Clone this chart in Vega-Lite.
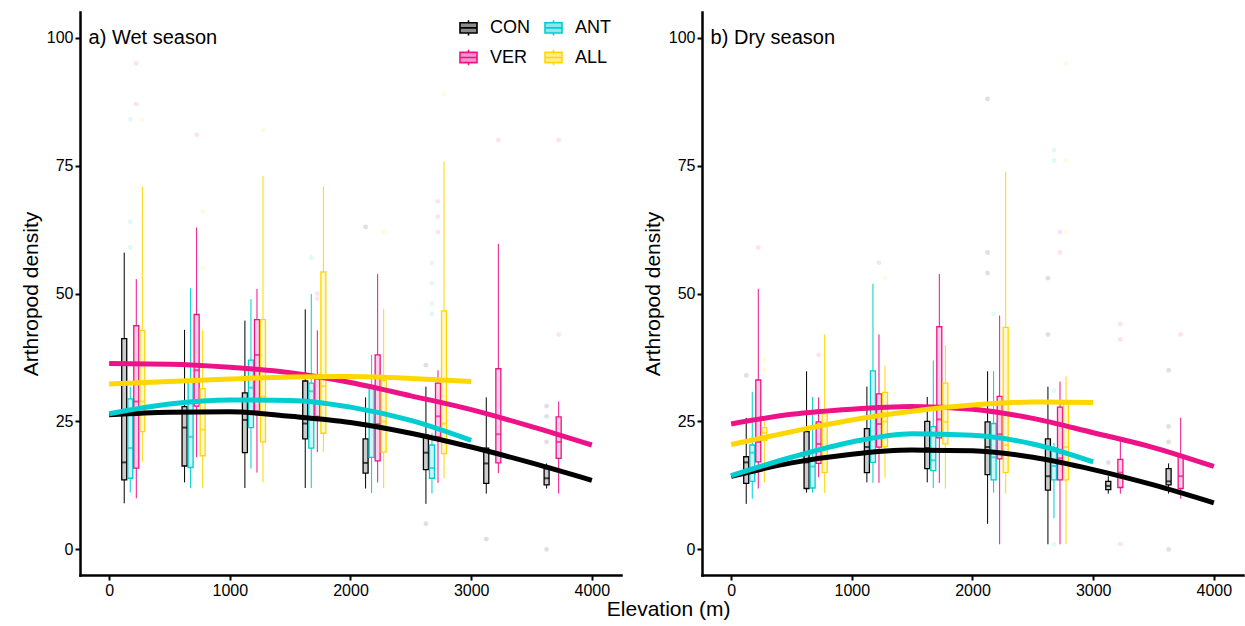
{
  "$schema": "https://vega.github.io/schema/vega-lite/v6.json",
  "autosize": {"type": "pad"},
  "padding": {"left": 20, "top": 12, "right": 4, "bottom": 4},
  "spacing": 21,
  "title": {"text": "Elevation (m)", "orient": "bottom", "anchor": "middle", "fontSize": 21, "fontWeight": "normal", "color": "#000", "font": "Liberation Sans", "dx": 37, "offset": 1},
  "resolve": {"legend": {"color": "independent"}},
  "datasets": {
    "box": [
      {"season":"Wet","trt":"CON","elev":200,"lo":9,"q1":13.6,"med":17,"q3":41.2,"hi":58},
      {"season":"Wet","trt":"ANT","elev":200,"lo":11.1,"q1":13.9,"med":19.8,"q3":29.4,"hi":31.8},
      {"season":"Wet","trt":"VER","elev":200,"lo":10,"q1":15.9,"med":28.9,"q3":43.7,"hi":52.8},
      {"season":"Wet","trt":"ALL","elev":200,"lo":17.1,"q1":23,"med":28.9,"q3":42.8,"hi":70.9},
      {"season":"Wet","trt":"CON","elev":700,"lo":13.1,"q1":16.3,"med":23.8,"q3":27.9,"hi":42.9},
      {"season":"Wet","trt":"ANT","elev":700,"lo":12,"q1":16,"med":22,"q3":33,"hi":51},
      {"season":"Wet","trt":"VER","elev":700,"lo":18,"q1":28,"med":35,"q3":45.9,"hi":62.9},
      {"season":"Wet","trt":"ALL","elev":700,"lo":12,"q1":18.3,"med":23.4,"q3":31.4,"hi":42.9},
      {"season":"Wet","trt":"CON","elev":1200,"lo":12,"q1":18.9,"med":25.3,"q3":30.6,"hi":44.7},
      {"season":"Wet","trt":"ANT","elev":1200,"lo":15.8,"q1":23.8,"med":31.6,"q3":37,"hi":48.9},
      {"season":"Wet","trt":"VER","elev":1200,"lo":15,"q1":27,"med":38,"q3":44.9,"hi":50.9},
      {"season":"Wet","trt":"ALL","elev":1200,"lo":13.1,"q1":21,"med":29.9,"q3":44.9,"hi":72.9},
      {"season":"Wet","trt":"CON","elev":1700,"lo":12,"q1":21.6,"med":24.6,"q3":32.9,"hi":46.9},
      {"season":"Wet","trt":"ANT","elev":1700,"lo":12,"q1":19.8,"med":30.9,"q3":32.5,"hi":49.9},
      {"season":"Wet","trt":"VER","elev":1700,"lo":19,"q1":26,"med":29,"q3":33.3,"hi":42.8},
      {"season":"Wet","trt":"ALL","elev":1700,"lo":19,"q1":22.7,"med":31.9,"q3":54.2,"hi":70.9},
      {"season":"Wet","trt":"CON","elev":2200,"lo":11.9,"q1":14.9,"med":16.9,"q3":21.6,"hi":29.7},
      {"season":"Wet","trt":"ANT","elev":2200,"lo":11,"q1":18,"med":24,"q3":32,"hi":38},
      {"season":"Wet","trt":"VER","elev":2200,"lo":13.1,"q1":17.3,"med":24.5,"q3":38,"hi":53.8},
      {"season":"Wet","trt":"ALL","elev":2200,"lo":12,"q1":19,"med":25,"q3":33,"hi":47},
      {"season":"Wet","trt":"CON","elev":2700,"lo":8.9,"q1":15.6,"med":18.9,"q3":22.3,"hi":31.8},
      {"season":"Wet","trt":"ANT","elev":2700,"lo":10.9,"q1":13.9,"med":15.9,"q3":20.4,"hi":22.8},
      {"season":"Wet","trt":"VER","elev":2700,"lo":13,"q1":22,"med":26,"q3":32.5,"hi":35},
      {"season":"Wet","trt":"ALL","elev":2700,"lo":13.9,"q1":18.7,"med":24.6,"q3":46.6,"hi":75.8},
      {"season":"Wet","trt":"CON","elev":3200,"lo":10.9,"q1":12.9,"med":16.8,"q3":19.8,"hi":29.7},
      {"season":"Wet","trt":"VER","elev":3200,"lo":14.9,"q1":16.9,"med":22.5,"q3":35.3,"hi":59.7},
      {"season":"Wet","trt":"CON","elev":3700,"lo":11.9,"q1":12.6,"med":13.9,"q3":15.8,"hi":16.8},
      {"season":"Wet","trt":"VER","elev":3700,"lo":10.9,"q1":17.8,"med":21,"q3":25.9,"hi":28.9},
      {"season":"Dry","trt":"CON","elev":200,"lo":8.9,"q1":12.9,"med":17,"q3":18.1,"hi":25.7},
      {"season":"Dry","trt":"ANT","elev":200,"lo":9.9,"q1":13.3,"med":18.9,"q3":20.4,"hi":30.8},
      {"season":"Dry","trt":"VER","elev":200,"lo":11.9,"q1":17.1,"med":21,"q3":33.1,"hi":50.9},
      {"season":"Dry","trt":"ALL","elev":200,"lo":13.1,"q1":21.3,"med":22.8,"q3":23.8,"hi":25},
      {"season":"Dry","trt":"CON","elev":700,"lo":11.1,"q1":11.9,"med":17,"q3":23,"hi":34.8},
      {"season":"Dry","trt":"ANT","elev":700,"lo":11.1,"q1":12,"med":16.2,"q3":17.6,"hi":29.8},
      {"season":"Dry","trt":"VER","elev":700,"lo":14.1,"q1":16.8,"med":20.6,"q3":24.9,"hi":29.7},
      {"season":"Dry","trt":"ALL","elev":700,"lo":11,"q1":15,"med":20,"q3":26.5,"hi":42},
      {"season":"Dry","trt":"CON","elev":1200,"lo":13.1,"q1":15,"med":20,"q3":23.6,"hi":31.8},
      {"season":"Dry","trt":"ANT","elev":1200,"lo":13,"q1":17,"med":22,"q3":34.9,"hi":51.9},
      {"season":"Dry","trt":"VER","elev":1200,"lo":13,"q1":20,"med":24.5,"q3":30.4,"hi":42},
      {"season":"Dry","trt":"ALL","elev":1200,"lo":14,"q1":20.1,"med":25,"q3":30.7,"hi":35.9},
      {"season":"Dry","trt":"CON","elev":1700,"lo":13.1,"q1":15.8,"med":19.8,"q3":25,"hi":29.8},
      {"season":"Dry","trt":"ANT","elev":1700,"lo":12,"q1":15.4,"med":17.4,"q3":24,"hi":36.9},
      {"season":"Dry","trt":"VER","elev":1700,"lo":13,"q1":21.8,"med":25.4,"q3":43.5,"hi":53.8},
      {"season":"Dry","trt":"ALL","elev":1700,"lo":11.9,"q1":20.6,"med":24.9,"q3":32.5,"hi":39.9},
      {"season":"Dry","trt":"CON","elev":2200,"lo":5,"q1":14.6,"med":20,"q3":24.9,"hi":34.8},
      {"season":"Dry","trt":"ANT","elev":2200,"lo":11.1,"q1":13.6,"med":18,"q3":24.6,"hi":34.8},
      {"season":"Dry","trt":"VER","elev":2200,"lo":1,"q1":17.7,"med":22.5,"q3":29.9,"hi":45.7},
      {"season":"Dry","trt":"ALL","elev":2200,"lo":10.9,"q1":15,"med":20.4,"q3":43.4,"hi":73.8},
      {"season":"Dry","trt":"CON","elev":2700,"lo":1,"q1":11.6,"med":14.3,"q3":21.6,"hi":31.8},
      {"season":"Dry","trt":"ANT","elev":2700,"lo":6.1,"q1":13.6,"med":16.3,"q3":19.8,"hi":20.8},
      {"season":"Dry","trt":"VER","elev":2700,"lo":1,"q1":13.6,"med":17.8,"q3":27.8,"hi":32.8},
      {"season":"Dry","trt":"ALL","elev":2700,"lo":1,"q1":13.6,"med":20,"q3":29,"hi":33.8},
      {"season":"Dry","trt":"CON","elev":3200,"lo":10.9,"q1":11.7,"med":12.4,"q3":13.3,"hi":14.3},
      {"season":"Dry","trt":"VER","elev":3200,"lo":10.9,"q1":12.1,"med":15,"q3":17.6,"hi":21.2},
      {"season":"Dry","trt":"CON","elev":3700,"lo":10.9,"q1":12.6,"med":13.3,"q3":15.8,"hi":16.8},
      {"season":"Dry","trt":"VER","elev":3700,"lo":9.9,"q1":11.9,"med":14.3,"q3":18.3,"hi":25.7}
    ],
    "out": [
      {"season":"Wet","trt":"ANT","elev":200,"y":84},{"season":"Wet","trt":"ANT","elev":200,"y":64},{"season":"Wet","trt":"ANT","elev":200,"y":59},
      {"season":"Wet","trt":"VER","elev":200,"y":95},{"season":"Wet","trt":"VER","elev":200,"y":87},
      {"season":"Wet","trt":"ALL","elev":200,"y":84},
      {"season":"Wet","trt":"VER","elev":700,"y":81},
      {"season":"Wet","trt":"ALL","elev":700,"y":66},{"season":"Wet","trt":"ALL","elev":700,"y":55},
      {"season":"Wet","trt":"ALL","elev":1200,"y":82},
      {"season":"Wet","trt":"ANT","elev":1700,"y":57},
      {"season":"Wet","trt":"VER","elev":1700,"y":50},{"season":"Wet","trt":"VER","elev":1700,"y":49},
      {"season":"Wet","trt":"CON","elev":2200,"y":63},
      {"season":"Wet","trt":"ALL","elev":2200,"y":62},
      {"season":"Wet","trt":"CON","elev":2700,"y":36},{"season":"Wet","trt":"CON","elev":2700,"y":5},
      {"season":"Wet","trt":"ANT","elev":2700,"y":56},{"season":"Wet","trt":"ANT","elev":2700,"y":52},{"season":"Wet","trt":"ANT","elev":2700,"y":48},{"season":"Wet","trt":"ANT","elev":2700,"y":46},
      {"season":"Wet","trt":"VER","elev":2700,"y":68},{"season":"Wet","trt":"VER","elev":2700,"y":65},{"season":"Wet","trt":"VER","elev":2700,"y":62},
      {"season":"Wet","trt":"ALL","elev":2700,"y":89},
      {"season":"Wet","trt":"CON","elev":3200,"y":2},
      {"season":"Wet","trt":"VER","elev":3200,"y":80},
      {"season":"Wet","trt":"CON","elev":3700,"y":28},{"season":"Wet","trt":"CON","elev":3700,"y":26},{"season":"Wet","trt":"CON","elev":3700,"y":21},{"season":"Wet","trt":"CON","elev":3700,"y":0},
      {"season":"Wet","trt":"VER","elev":3700,"y":80},{"season":"Wet","trt":"VER","elev":3700,"y":42},
      {"season":"Dry","trt":"CON","elev":200,"y":34},
      {"season":"Dry","trt":"VER","elev":200,"y":59},
      {"season":"Dry","trt":"ALL","elev":200,"y":37},{"season":"Dry","trt":"ALL","elev":200,"y":35},
      {"season":"Dry","trt":"VER","elev":700,"y":38},
      {"season":"Dry","trt":"VER","elev":1200,"y":56},
      {"season":"Dry","trt":"ALL","elev":1200,"y":53},
      {"season":"Dry","trt":"CON","elev":2200,"y":88},{"season":"Dry","trt":"CON","elev":2200,"y":58},{"season":"Dry","trt":"CON","elev":2200,"y":54},
      {"season":"Dry","trt":"ANT","elev":2200,"y":46},
      {"season":"Dry","trt":"CON","elev":2700,"y":53},{"season":"Dry","trt":"CON","elev":2700,"y":42},
      {"season":"Dry","trt":"ANT","elev":2700,"y":78},{"season":"Dry","trt":"ANT","elev":2700,"y":76},{"season":"Dry","trt":"ANT","elev":2700,"y":31},{"season":"Dry","trt":"ANT","elev":2700,"y":1},
      {"season":"Dry","trt":"VER","elev":2700,"y":62},{"season":"Dry","trt":"VER","elev":2700,"y":58},
      {"season":"Dry","trt":"ALL","elev":2700,"y":95},{"season":"Dry","trt":"ALL","elev":2700,"y":76},{"season":"Dry","trt":"ALL","elev":2700,"y":62},
      {"season":"Dry","trt":"CON","elev":3200,"y":17},
      {"season":"Dry","trt":"VER","elev":3200,"y":44},{"season":"Dry","trt":"VER","elev":3200,"y":41},{"season":"Dry","trt":"VER","elev":3200,"y":1},
      {"season":"Dry","trt":"CON","elev":3700,"y":35},{"season":"Dry","trt":"CON","elev":3700,"y":24},{"season":"Dry","trt":"CON","elev":3700,"y":21},{"season":"Dry","trt":"CON","elev":3700,"y":0},
      {"season":"Dry","trt":"VER","elev":3700,"y":42}
    ],
    "fit": [
      {"season":"Wet","trt":"CON","elev":0,"y":26.3},{"season":"Wet","trt":"CON","elev":500,"y":26.8},{"season":"Wet","trt":"CON","elev":1000,"y":26.9},{"season":"Wet","trt":"CON","elev":1500,"y":26.0},{"season":"Wet","trt":"CON","elev":2000,"y":24.8},{"season":"Wet","trt":"CON","elev":2500,"y":22.7},{"season":"Wet","trt":"CON","elev":3000,"y":20.0},{"season":"Wet","trt":"CON","elev":3500,"y":16.9},{"season":"Wet","trt":"CON","elev":4000,"y":13.5},
      {"season":"Wet","trt":"VER","elev":0,"y":36.3},{"season":"Wet","trt":"VER","elev":500,"y":36.2},{"season":"Wet","trt":"VER","elev":1000,"y":35.6},{"season":"Wet","trt":"VER","elev":1500,"y":34.5},{"season":"Wet","trt":"VER","elev":2000,"y":32.6},{"season":"Wet","trt":"VER","elev":2500,"y":30.0},{"season":"Wet","trt":"VER","elev":3000,"y":27.3},{"season":"Wet","trt":"VER","elev":3500,"y":24.0},{"season":"Wet","trt":"VER","elev":4000,"y":20.4},
      {"season":"Wet","trt":"ALL","elev":0,"y":32.3},{"season":"Wet","trt":"ALL","elev":500,"y":32.8},{"season":"Wet","trt":"ALL","elev":1000,"y":33.3},{"season":"Wet","trt":"ALL","elev":1500,"y":33.7},{"season":"Wet","trt":"ALL","elev":2000,"y":33.8},{"season":"Wet","trt":"ALL","elev":2500,"y":33.4},{"season":"Wet","trt":"ALL","elev":3000,"y":32.8},
      {"season":"Wet","trt":"ANT","elev":0,"y":26.5},{"season":"Wet","trt":"ANT","elev":500,"y":28.4},{"season":"Wet","trt":"ANT","elev":1000,"y":29.2},{"season":"Wet","trt":"ANT","elev":1500,"y":29.1},{"season":"Wet","trt":"ANT","elev":2000,"y":27.8},{"season":"Wet","trt":"ANT","elev":2500,"y":25.2},{"season":"Wet","trt":"ANT","elev":3000,"y":21.3},
      {"season":"Dry","trt":"CON","elev":0,"y":14.3},{"season":"Dry","trt":"CON","elev":500,"y":16.9},{"season":"Dry","trt":"CON","elev":1000,"y":18.6},{"season":"Dry","trt":"CON","elev":1500,"y":19.4},{"season":"Dry","trt":"CON","elev":2000,"y":19.3},{"season":"Dry","trt":"CON","elev":2500,"y":18.0},{"season":"Dry","trt":"CON","elev":3000,"y":15.6},{"season":"Dry","trt":"CON","elev":3500,"y":12.6},{"season":"Dry","trt":"CON","elev":4000,"y":9.1},
      {"season":"Dry","trt":"VER","elev":0,"y":24.5},{"season":"Dry","trt":"VER","elev":500,"y":26.4},{"season":"Dry","trt":"VER","elev":1000,"y":27.4},{"season":"Dry","trt":"VER","elev":1500,"y":27.9},{"season":"Dry","trt":"VER","elev":2000,"y":27.4},{"season":"Dry","trt":"VER","elev":2500,"y":25.6},{"season":"Dry","trt":"VER","elev":3000,"y":22.8},{"season":"Dry","trt":"VER","elev":3500,"y":19.9},{"season":"Dry","trt":"VER","elev":4000,"y":16.2},
      {"season":"Dry","trt":"ALL","elev":0,"y":20.5},{"season":"Dry","trt":"ALL","elev":500,"y":23.0},{"season":"Dry","trt":"ALL","elev":1000,"y":25.3},{"season":"Dry","trt":"ALL","elev":1500,"y":27.0},{"season":"Dry","trt":"ALL","elev":2000,"y":28.2},{"season":"Dry","trt":"ALL","elev":2500,"y":28.8},{"season":"Dry","trt":"ALL","elev":3000,"y":28.7},
      {"season":"Dry","trt":"ANT","elev":0,"y":14.4},{"season":"Dry","trt":"ANT","elev":500,"y":18.0},{"season":"Dry","trt":"ANT","elev":1000,"y":21.0},{"season":"Dry","trt":"ANT","elev":1500,"y":22.6},{"season":"Dry","trt":"ANT","elev":2000,"y":22.3},{"season":"Dry","trt":"ANT","elev":2500,"y":20.6},{"season":"Dry","trt":"ANT","elev":3000,"y":17.1}
    ]
  },
  "hconcat": [
    {
      "width": 541, "height": 563,
      "encoding": {
        "color": {"field": "trt", "type": "nominal", "scale": {"domain": ["CON", "VER", "ANT", "ALL"], "range": ["#000000", "#EE1289", "#00CED1", "#FFD700"]},
          "legend": {"orient": "none", "legendX": 379, "legendY": 6, "columns": 2, "title": null, "padding": 0,
            "symbolType": "M0,-0.9V-0.6M0,0.6V0.9M-1,-0.6H1V0.6H-1ZM-1,0H1", "symbolSize": 289,
            "labelFontSize": 18, "labelColor": "#000", "labelFont": "Liberation Sans", "labelOffset": 12, "columnPadding": 11, "rowPadding": 7,
            "symbolStrokeWidth": 1.6, "symbolOpacity": 1, "symbolFillColor": "#999999",
            "encode": {"symbols": {"update": {"opacity": {"value": 1}, "fill": {"scale": "color", "field": "value"}, "fillOpacity": {"value": 0.45}, "stroke": {"scale": "color", "field": "value"}, "strokeWidth": {"value": 1.6}}}}}}
      },
      "layer": [
        {"data": {"name": "out"}, "transform": [{"filter": "datum.season == 'Wet'"}, {"calculate": "datum.elev + (datum.trt == 'CON' ? -75 : datum.trt == 'ANT' ? -25 : datum.trt == 'VER' ? 25 : 75)", "as": "xd"}],
         "mark": {"type": "circle", "size": 24, "opacity": 0.12},
         "encoding": {
           "x": {"field": "xd", "type": "quantitative", "scale": {"domain": [-200, 4200], "nice": false, "zero": false}, "axis": {"title": null, "values": [0, 1000, 2000, 3000, 4000], "format": "d"}},
           "y": {"field": "y", "type": "quantitative", "scale": {"domain": [-5, 105], "nice": false, "zero": false}, "axis": {"title": "Arthropod density", "values": [0, 25, 50, 75, 100]}}}},
        {"data": {"name": "box"}, "transform": [{"filter": "datum.season == 'Wet'"}, {"calculate": "datum.elev + (datum.trt == 'CON' ? -75 : datum.trt == 'ANT' ? -25 : datum.trt == 'VER' ? 25 : 75)", "as": "xd"}],
         "mark": {"type": "rule", "strokeWidth": 1},
         "encoding": {
           "x": {"field": "xd", "type": "quantitative", "scale": {"domain": [-200, 4200], "nice": false, "zero": false}, "axis": {"title": null, "values": [0, 1000, 2000, 3000, 4000], "format": "d"}},
           "y": {"field": "lo", "type": "quantitative", "scale": {"domain": [-5, 105], "nice": false, "zero": false}, "axis": {"title": "Arthropod density", "values": [0, 25, 50, 75, 100]}},
           "y2": {"field": "q1"}}},
        {"data": {"name": "box"}, "transform": [{"filter": "datum.season == 'Wet'"}, {"calculate": "datum.elev + (datum.trt == 'CON' ? -75 : datum.trt == 'ANT' ? -25 : datum.trt == 'VER' ? 25 : 75)", "as": "xd"}],
         "mark": {"type": "rule", "strokeWidth": 1},
         "encoding": {
           "x": {"field": "xd", "type": "quantitative", "scale": {"domain": [-200, 4200], "nice": false, "zero": false}, "axis": {"title": null, "values": [0, 1000, 2000, 3000, 4000], "format": "d"}},
           "y": {"field": "q3", "type": "quantitative", "scale": {"domain": [-5, 105], "nice": false, "zero": false}, "axis": {"title": "Arthropod density", "values": [0, 25, 50, 75, 100]}},
           "y2": {"field": "hi"}}},
        {"data": {"name": "box"}, "transform": [{"filter": "datum.season == 'Wet'"}, {"calculate": "datum.elev + (datum.trt == 'CON' ? -75 : datum.trt == 'ANT' ? -25 : datum.trt == 'VER' ? 25 : 75)", "as": "xd"}],
         "mark": {"type": "bar", "width": 5, "fillOpacity": 0.2, "strokeWidth": 0},
         "encoding": {
           "x": {"field": "xd", "type": "quantitative", "scale": {"domain": [-200, 4200], "nice": false, "zero": false}, "axis": {"title": null, "values": [0, 1000, 2000, 3000, 4000], "format": "d"}},
           "y": {"field": "q1", "type": "quantitative", "scale": {"domain": [-5, 105], "nice": false, "zero": false}, "axis": {"title": "Arthropod density", "values": [0, 25, 50, 75, 100]}},
           "y2": {"field": "q3"}}},
        {"data": {"name": "box"}, "transform": [{"filter": "datum.season == 'Wet'"}, {"calculate": "datum.elev + (datum.trt == 'CON' ? -75 : datum.trt == 'ANT' ? -25 : datum.trt == 'VER' ? 25 : 75)", "as": "xd"}],
         "mark": {"type": "bar", "width": 5, "filled": false, "strokeWidth": 1.3},
         "encoding": {
           "x": {"field": "xd", "type": "quantitative", "scale": {"domain": [-200, 4200], "nice": false, "zero": false}, "axis": {"title": null, "values": [0, 1000, 2000, 3000, 4000], "format": "d"}},
           "y": {"field": "q1", "type": "quantitative", "scale": {"domain": [-5, 105], "nice": false, "zero": false}, "axis": {"title": "Arthropod density", "values": [0, 25, 50, 75, 100]}},
           "y2": {"field": "q3"}}},
        {"data": {"name": "box"}, "transform": [{"filter": "datum.season == 'Wet'"}, {"calculate": "datum.elev + (datum.trt == 'CON' ? -75 : datum.trt == 'ANT' ? -25 : datum.trt == 'VER' ? 25 : 75)", "as": "xd"}],
         "mark": {"type": "tick", "orient": "horizontal", "size": 5, "thickness": 2},
         "encoding": {
           "x": {"field": "xd", "type": "quantitative", "scale": {"domain": [-200, 4200], "nice": false, "zero": false}, "axis": {"title": null, "values": [0, 1000, 2000, 3000, 4000], "format": "d"}},
           "y": {"field": "med", "type": "quantitative", "scale": {"domain": [-5, 105], "nice": false, "zero": false}, "axis": {"title": "Arthropod density", "values": [0, 25, 50, 75, 100]}}}},
        {"data": {"name": "fit"}, "transform": [{"filter": "datum.season == 'Wet'"}],
         "mark": {"type": "line", "strokeWidth": 5, "interpolate": "monotone", "strokeCap": "butt"},
         "encoding": {
           "x": {"field": "elev", "type": "quantitative", "scale": {"domain": [-200, 4200], "nice": false, "zero": false}, "axis": {"title": null, "values": [0, 1000, 2000, 3000, 4000], "format": "d"}},
           "y": {"field": "y", "type": "quantitative", "scale": {"domain": [-5, 105], "nice": false, "zero": false}, "axis": {"title": "Arthropod density", "values": [0, 25, 50, 75, 100]}}}},
        {"data": {"values": [{"label": "a) Wet season"}]},
         "mark": {"type": "text", "align": "left", "baseline": "middle", "fontSize": 20, "font": "Liberation Sans", "color": "#000"},
         "encoding": {"x": {"datum": -170, "type": "quantitative"}, "y": {"datum": 100, "type": "quantitative"}, "text": {"field": "label"}, "color": {"value": "#000"}}}
      ]
    },
    {
      "width": 541, "height": 563,
      "encoding": {
        "color": {"field": "trt", "type": "nominal", "scale": {"domain": ["CON", "VER", "ANT", "ALL"], "range": ["#000000", "#EE1289", "#00CED1", "#FFD700"]}, "legend": null}
      },
      "layer": [
        {"data": {"name": "out"}, "transform": [{"filter": "datum.season == 'Dry'"}, {"calculate": "datum.elev + (datum.trt == 'CON' ? -75 : datum.trt == 'ANT' ? -25 : datum.trt == 'VER' ? 25 : 75)", "as": "xd"}],
         "mark": {"type": "circle", "size": 24, "opacity": 0.12},
         "encoding": {
           "x": {"field": "xd", "type": "quantitative", "scale": {"domain": [-200, 4200], "nice": false, "zero": false}, "axis": {"title": null, "values": [0, 1000, 2000, 3000, 4000], "format": "d"}},
           "y": {"field": "y", "type": "quantitative", "scale": {"domain": [-5, 105], "nice": false, "zero": false}, "axis": {"title": "Arthropod density", "values": [0, 25, 50, 75, 100]}}}},
        {"data": {"name": "box"}, "transform": [{"filter": "datum.season == 'Dry'"}, {"calculate": "datum.elev + (datum.trt == 'CON' ? -75 : datum.trt == 'ANT' ? -25 : datum.trt == 'VER' ? 25 : 75)", "as": "xd"}],
         "mark": {"type": "rule", "strokeWidth": 1},
         "encoding": {
           "x": {"field": "xd", "type": "quantitative", "scale": {"domain": [-200, 4200], "nice": false, "zero": false}, "axis": {"title": null, "values": [0, 1000, 2000, 3000, 4000], "format": "d"}},
           "y": {"field": "lo", "type": "quantitative", "scale": {"domain": [-5, 105], "nice": false, "zero": false}, "axis": {"title": "Arthropod density", "values": [0, 25, 50, 75, 100]}},
           "y2": {"field": "q1"}}},
        {"data": {"name": "box"}, "transform": [{"filter": "datum.season == 'Dry'"}, {"calculate": "datum.elev + (datum.trt == 'CON' ? -75 : datum.trt == 'ANT' ? -25 : datum.trt == 'VER' ? 25 : 75)", "as": "xd"}],
         "mark": {"type": "rule", "strokeWidth": 1},
         "encoding": {
           "x": {"field": "xd", "type": "quantitative", "scale": {"domain": [-200, 4200], "nice": false, "zero": false}, "axis": {"title": null, "values": [0, 1000, 2000, 3000, 4000], "format": "d"}},
           "y": {"field": "q3", "type": "quantitative", "scale": {"domain": [-5, 105], "nice": false, "zero": false}, "axis": {"title": "Arthropod density", "values": [0, 25, 50, 75, 100]}},
           "y2": {"field": "hi"}}},
        {"data": {"name": "box"}, "transform": [{"filter": "datum.season == 'Dry'"}, {"calculate": "datum.elev + (datum.trt == 'CON' ? -75 : datum.trt == 'ANT' ? -25 : datum.trt == 'VER' ? 25 : 75)", "as": "xd"}],
         "mark": {"type": "bar", "width": 5, "fillOpacity": 0.2, "strokeWidth": 0},
         "encoding": {
           "x": {"field": "xd", "type": "quantitative", "scale": {"domain": [-200, 4200], "nice": false, "zero": false}, "axis": {"title": null, "values": [0, 1000, 2000, 3000, 4000], "format": "d"}},
           "y": {"field": "q1", "type": "quantitative", "scale": {"domain": [-5, 105], "nice": false, "zero": false}, "axis": {"title": "Arthropod density", "values": [0, 25, 50, 75, 100]}},
           "y2": {"field": "q3"}}},
        {"data": {"name": "box"}, "transform": [{"filter": "datum.season == 'Dry'"}, {"calculate": "datum.elev + (datum.trt == 'CON' ? -75 : datum.trt == 'ANT' ? -25 : datum.trt == 'VER' ? 25 : 75)", "as": "xd"}],
         "mark": {"type": "bar", "width": 5, "filled": false, "strokeWidth": 1.3},
         "encoding": {
           "x": {"field": "xd", "type": "quantitative", "scale": {"domain": [-200, 4200], "nice": false, "zero": false}, "axis": {"title": null, "values": [0, 1000, 2000, 3000, 4000], "format": "d"}},
           "y": {"field": "q1", "type": "quantitative", "scale": {"domain": [-5, 105], "nice": false, "zero": false}, "axis": {"title": "Arthropod density", "values": [0, 25, 50, 75, 100]}},
           "y2": {"field": "q3"}}},
        {"data": {"name": "box"}, "transform": [{"filter": "datum.season == 'Dry'"}, {"calculate": "datum.elev + (datum.trt == 'CON' ? -75 : datum.trt == 'ANT' ? -25 : datum.trt == 'VER' ? 25 : 75)", "as": "xd"}],
         "mark": {"type": "tick", "orient": "horizontal", "size": 5, "thickness": 2},
         "encoding": {
           "x": {"field": "xd", "type": "quantitative", "scale": {"domain": [-200, 4200], "nice": false, "zero": false}, "axis": {"title": null, "values": [0, 1000, 2000, 3000, 4000], "format": "d"}},
           "y": {"field": "med", "type": "quantitative", "scale": {"domain": [-5, 105], "nice": false, "zero": false}, "axis": {"title": "Arthropod density", "values": [0, 25, 50, 75, 100]}}}},
        {"data": {"name": "fit"}, "transform": [{"filter": "datum.season == 'Dry'"}],
         "mark": {"type": "line", "strokeWidth": 5, "interpolate": "monotone", "strokeCap": "butt"},
         "encoding": {
           "x": {"field": "elev", "type": "quantitative", "scale": {"domain": [-200, 4200], "nice": false, "zero": false}, "axis": {"title": null, "values": [0, 1000, 2000, 3000, 4000], "format": "d"}},
           "y": {"field": "y", "type": "quantitative", "scale": {"domain": [-5, 105], "nice": false, "zero": false}, "axis": {"title": "Arthropod density", "values": [0, 25, 50, 75, 100]}}}},
        {"data": {"values": [{"label": "b) Dry season"}]},
         "mark": {"type": "text", "align": "left", "baseline": "middle", "fontSize": 20, "font": "Liberation Sans", "color": "#000"},
         "encoding": {"x": {"datum": -170, "type": "quantitative"}, "y": {"datum": 100, "type": "quantitative"}, "text": {"field": "label"}, "color": {"value": "#000"}}}
      ]
    }
  ],
  "config": {
    "view": {"stroke": null},
    "font": "Liberation Sans",
    "axis": {"grid": false, "domainColor": "#000", "domainWidth": 2.5, "domainCap": "square", "tickColor": "#000", "tickWidth": 2, "tickSize": 5, "labelColor": "#000", "labelFontSize": 16, "labelPadding": 2, "labelFont": "Liberation Sans", "titleFont": "Liberation Sans", "titleFontSize": 21, "titleFontWeight": "normal", "titleColor": "#000", "titlePadding": 5}
  }
}
